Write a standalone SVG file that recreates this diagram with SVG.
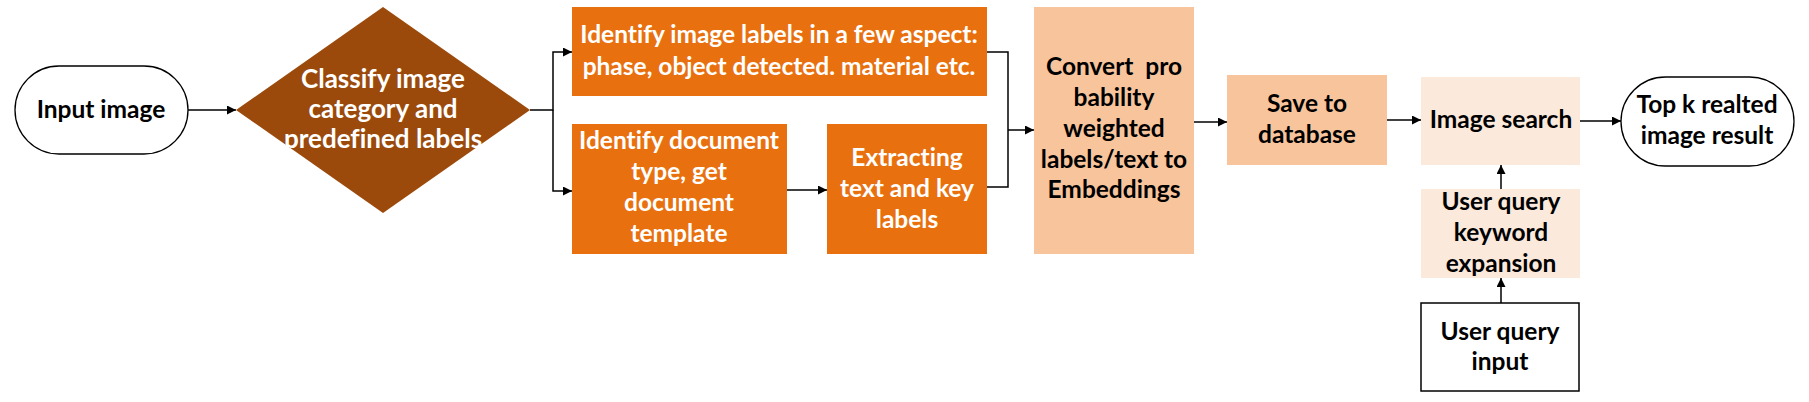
<svg xmlns="http://www.w3.org/2000/svg" width="1809" height="402" viewBox="0 0 1809 402">
<defs>
<marker id="ah" viewBox="0 0 10 10" refX="10" refY="5" markerWidth="10" markerHeight="9" markerUnits="userSpaceOnUse" orient="auto">
<path d="M0,0 L10,5 L0,10 Z" fill="#000"/>
</marker>
<style>
.t{font-family:Lato,"Open Sans","Liberation Sans",sans-serif;font-weight:bold;font-size:24.5px;text-anchor:middle;font-variant-ligatures:none}
.w{fill:#fff}
.k{fill:#000}
.c{fill:none;stroke:#000;stroke-width:1.5}
.a{marker-end:url(#ah)}
</style>
</defs>
<rect width="1809" height="402" fill="#fff"/>
<g id="input-image">
<rect x="15" y="66" width="173" height="88" rx="44" ry="44" fill="#fff" stroke="#000" stroke-width="1.3"/>
<text class="t k" x="101" y="118">Input image</text>
</g>
<g id="classify">
<polygon points="383,7 530,110 383,213 236,110" fill="#9B4A0B"/>
<text class="t w" x="383" y="88" style="font-size:26px">Classify image</text>
<text class="t w" x="383" y="118" style="font-size:26px">category and</text>
<text class="t w" x="383" y="148" style="font-size:26px">predefined labels</text>
</g>
<g id="identify-labels">
<rect x="572" y="7" width="415" height="89" fill="#E9700F"/>
<text class="t w" x="779" y="43">Identify image labels in a few aspect:</text>
<text class="t w" x="779" y="75">phase, object detected. material etc.</text>
</g>
<g id="identify-doc">
<rect x="572" y="124" width="215" height="130" fill="#E9700F"/>
<text class="t w" x="679" y="149">Identify document</text>
<text class="t w" x="679" y="180">type, get</text>
<text class="t w" x="679" y="211">document</text>
<text class="t w" x="679" y="242">template</text>
</g>
<g id="extracting">
<rect x="827" y="124" width="160" height="130" fill="#E9700F"/>
<text class="t w" x="907" y="166">Extracting</text>
<text class="t w" x="907" y="197">text and key</text>
<text class="t w" x="907" y="228">labels</text>
</g>
<g id="convert">
<rect x="1034" y="7" width="160" height="247" fill="#F8C49B"/>
<text class="t k" x="1114" y="75" xml:space="preserve">Convert  pro</text>
<text class="t k" x="1114" y="106">bability</text>
<text class="t k" x="1114" y="137">weighted</text>
<text class="t k" x="1114" y="168">labels/text to</text>
<text class="t k" x="1114" y="198">Embeddings</text>
</g>
<g id="save">
<rect x="1227" y="75" width="160" height="90" fill="#F8C49B"/>
<text class="t k" x="1307" y="112">Save to</text>
<text class="t k" x="1307" y="143">database</text>
</g>
<g id="image-search">
<rect x="1421" y="77" width="159" height="88" fill="#FBE9DC"/>
<text class="t k" x="1501" y="128">Image search</text>
</g>
<g id="top-k">
<rect x="1621" y="77" width="173" height="89" rx="44.5" ry="44.5" fill="#fff" stroke="#000" stroke-width="1.3"/>
<text class="t k" x="1707" y="113">Top k realted</text>
<text class="t k" x="1707" y="144">image result</text>
</g>
<g id="keyword">
<rect x="1421" y="189" width="159" height="89" fill="#FBE9DC"/>
<text class="t k" x="1501" y="210">User query</text>
<text class="t k" x="1501" y="241">keyword</text>
<text class="t k" x="1501" y="272">expansion</text>
</g>
<g id="user-input">
<rect x="1421" y="303" width="158" height="88" fill="#fff" stroke="#000" stroke-width="1.5"/>
<text class="t k" x="1500" y="340">User query</text>
<text class="t k" x="1500" y="370">input</text>
</g>
<g id="connectors">
<path class="c a" d="M188,110 H236"/>
<path class="c a" d="M530,110 H553 V52 H572"/>
<path class="c a" d="M553,110 V191 H572"/>
<path class="c a" d="M787,190 H827"/>
<path class="c" d="M987,52 H1008 V187 H987"/>
<path class="c a" d="M1008,130 H1034"/>
<path class="c a" d="M1194,122 H1227"/>
<path class="c a" d="M1387,120 H1421"/>
<path class="c a" d="M1580,121 H1621"/>
<path class="c a" d="M1501,189 V165"/>
<path class="c a" d="M1501,303 V278"/>
</g>
</svg>
